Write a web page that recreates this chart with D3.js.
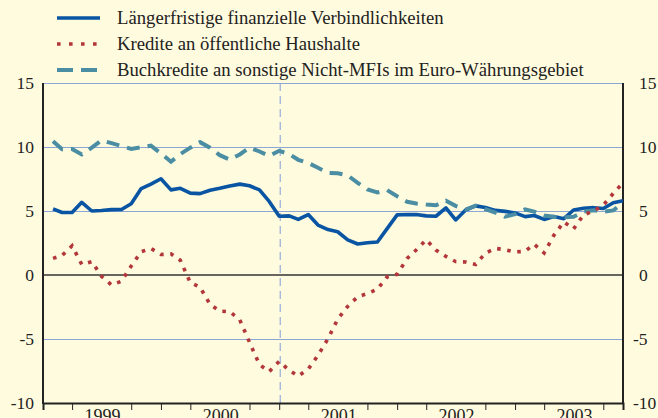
<!DOCTYPE html>
<html>
<head>
<meta charset="utf-8">
<script src="https://cdn.jsdelivr.net/npm/d3@7"></script>
<style>
  html, body { margin: 0; padding: 0; background: #fffbde; }
  svg { display: block; }
</style>
</head>
<body>
<div id="chart"></div>
<script>
// monthly data, Jan 1999 - Nov 2003 (plotted at month end)
const startYear = 1999;
const yearLabels = ["1999", "2000", "2001", "2002", "2003"];
const seriesNames = [
    "Längerfristige finanzielle Verbindlichkeiten",
    "Kredite an öffentliche Haushalte",
    "Buchkredite an sonstige Nicht-MFIs im Euro-Währungsgebiet"
];

const laengerfristig = [
    5.17, 4.88, 4.88, 5.68, 5.0, 5.04, 5.11, 5.12, 5.57, 6.75, 7.1, 7.52,
    6.65, 6.77, 6.4, 6.36, 6.62, 6.77, 6.95, 7.1, 6.97, 6.65, 5.75, 4.59,
    4.62, 4.34, 4.72, 3.9, 3.55, 3.38, 2.75, 2.42, 2.52, 2.58, 3.62, 4.7,
    4.73, 4.72, 4.62, 4.59, 5.24, 4.3, 5.08, 5.4, 5.27, 5.05, 4.97, 4.85,
    4.56, 4.65, 4.34, 4.57, 4.4, 5.08, 5.22, 5.26, 5.19, 5.65, 5.8
];
const kredite = [
    1.3, 1.52, 2.28, 0.82, 1.05, -0.1, -0.78, -0.48, 0.7, 1.82, 2.07, 1.6,
    1.65, 1.15, -0.6, -0.95, -2.3, -2.82, -2.87, -3.5, -5.25, -7.0, -7.55, -6.75,
    -7.45, -7.9, -7.35, -6.28, -4.98, -3.45, -2.45, -1.7, -1.45, -1.1, -0.15, 0.05,
    1.3, 1.95, 2.75, 1.95, 1.45, 1.05, 1.02, 0.82, 1.7, 2.08, 1.97, 1.8,
    1.85, 2.4, 1.72, 3.1, 4.15, 3.6, 4.7, 5.0, 5.45, 6.38, 7.2
];
const buchkredite = [
    10.45, 9.82, 9.85, 9.42, 9.95, 10.52, 10.3, 10.08, 9.85, 9.98, 10.1, 9.5,
    8.85, 9.45, 9.95, 10.38, 9.95, 9.36, 9.02, 9.42, 9.95, 9.65, 9.3, 9.7,
    9.45, 9.0, 8.75, 8.38, 7.98, 7.95, 7.78, 7.2, 6.68, 6.45, 6.63, 6.15,
    5.72, 5.58, 5.5, 5.45, 5.8, 5.4, 5.1, 5.42, 5.15, 4.88, 4.55, 4.75,
    5.12, 4.95, 4.65, 4.55, 4.5, 4.55, 4.95, 5.05, 4.95, 5.05, 5.65
];
const yTicks = [-10, -5, 0, 5, 10, 15];

const width = 658, height = 418;
const margin = { top: 83, right: 35, bottom: 15, left: 43 };
const serif = '"Liberation Serif", "Times New Roman", serif';

const colBlue = "#0a55a3", colRed = "#b3373a", colTeal = "#4b8ea3";
const gridCol = "#8ea6d6";

const svg = d3.select("#chart").append("svg")
    .attr("width", width)
    .attr("height", height);

svg.append("rect").attr("width", width).attr("height", height).attr("fill", "#fffbde");

const x = d3.scaleTime()
    .domain([new Date(startYear, 0, 1), new Date(2003, 11, 1)])
    .range([margin.left, width - margin.right]);
const y = d3.scaleLinear()
    .domain([-10, 15])
    .range([height - margin.bottom, margin.top]);

// month-end dates for each observation
const dates = laengerfristig.map((d, i) => new Date(startYear, i + 1, 1));

// horizontal grid
svg.append("g").selectAll("line")
    .data(yTicks.filter(v => v !== 0 && v !== -10))
    .enter().append("line")
    .attr("x1", x.range()[0]).attr("x2", x.range()[1])
    .attr("y1", d => Math.round(y(d)) + 0.5).attr("y2", d => Math.round(y(d)) + 0.5)
    .attr("stroke", gridCol).attr("stroke-width", 1);

// Greece joins the euro area: Jan 2001
svg.append("line")
    .attr("x1", x(new Date(2001, 0, 1)) + 1).attr("x2", x(new Date(2001, 0, 1)) + 1)
    .attr("y1", y(15)).attr("y2", y(-10))
    .attr("stroke", "#7f9ddb").attr("stroke-width", 1)
    .attr("stroke-dasharray", "8,5");

// zero line
svg.append("line")
    .attr("x1", x.range()[0]).attr("x2", x.range()[1])
    .attr("y1", y(0)).attr("y2", y(0))
    .attr("stroke", "#333").attr("stroke-width", 1.6);

// x axis with quarterly ticks (no tick at mid-year where the label sits)
const tickDates = [];
for (let yr = startYear; yr <= 2003; yr++) {
    [0, 3, 9].forEach(m => tickDates.push(new Date(yr, m, 1)));
}
const xAxis = svg.append("g")
    .attr("transform", `translate(0,${y(-10)})`)
    .call(d3.axisBottom(x).tickValues(tickDates).tickSize(7).tickFormat(""));
xAxis.select(".domain").attr("stroke", "#222").attr("stroke-width", 2);
xAxis.selectAll(".tick line").attr("stroke", "#222").attr("stroke-width", 1);

svg.append("g").selectAll("text")
    .data(yearLabels)
    .enter().append("text")
    .attr("x", d => x(new Date(+d, 6, 1)) + 1)
    .attr("y", y(-10) + 19)
    .attr("text-anchor", "middle")
    .style("font-family", serif)
    .style("font-size", "18px")
    .attr("fill", "#222")
    .text(d => d);

// left and right axes
[x.range()[0], x.range()[1]].forEach(px => {
    svg.append("line")
        .attr("x1", px).attr("x2", px)
        .attr("y1", y(15)).attr("y2", y(-10) + 1)
        .attr("stroke", "#222").attr("stroke-width", 2);
});

svg.append("g").selectAll("text")
    .data(yTicks)
    .enter().append("text")
    .attr("x", 34)
    .attr("y", d => y(d))
    .attr("dy", "0.35em")
    .attr("text-anchor", "end")
    .style("font-family", serif)
    .style("font-size", "17.5px")
    .attr("fill", "#222")
    .text(d => d);

svg.append("g").selectAll("text")
    .data(yTicks)
    .enter().append("text")
    .attr("x", d => d < 0 ? 633 : 639)
    .attr("y", d => y(d))
    .attr("dy", "0.35em")
    .attr("text-anchor", "start")
    .style("font-family", serif)
    .style("font-size", "17.5px")
    .attr("fill", "#222")
    .text(d => d);

// series
const line = d3.line()
    .x((d, i) => x(dates[i]))
    .y(d => y(d));

svg.append("path")
    .datum(laengerfristig)
    .attr("d", line)
    .attr("fill", "none")
    .attr("stroke", colBlue)
    .attr("stroke-width", 3.6)
    .attr("stroke-linejoin", "round");

svg.append("path")
    .datum(buchkredite)
    .attr("d", line)
    .attr("fill", "none")
    .attr("stroke", colTeal)
    .attr("stroke-width", 4)
    .attr("stroke-dasharray", "13,8");

svg.append("path")
    .datum(kredite)
    .attr("d", line)
    .attr("fill", "none")
    .attr("stroke", colRed)
    .attr("stroke-width", 3.6)
    .attr("stroke-dasharray", "3.6,6.6");

// legend
const legendStyles = [
    { color: colBlue, dash: null, width: 3.6 },
    { color: colRed, dash: "3.6,8.4", width: 3.6 },
    { color: colTeal, dash: "16,8", width: 4 }
];
const legend = svg.append("g");
seriesNames.forEach((name, i) => {
    const ly = 18 + i * 26;
    legend.append("line")
        .attr("x1", 57).attr("x2", 100)
        .attr("y1", ly).attr("y2", ly)
        .attr("stroke", legendStyles[i].color)
        .attr("stroke-width", legendStyles[i].width)
        .attr("stroke-dasharray", legendStyles[i].dash);
    legend.append("text")
        .attr("x", 117)
        .attr("y", ly)
        .attr("dy", "0.33em")
        .style("font-family", serif)
        .style("font-size", "18.7px")
        .attr("fill", "#222")
        .text(name);
});
</script>
</body>
</html>
